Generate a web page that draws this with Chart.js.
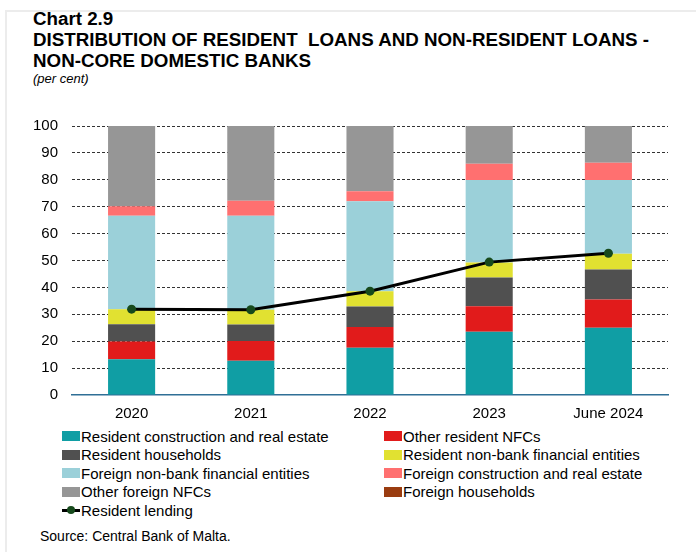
<!DOCTYPE html>
<html>
<head>
<meta charset="utf-8">
<script src="https://cdn.jsdelivr.net/npm/chart.js@4.4.1/dist/chart.umd.min.js"></script>
<style>
  html, body { margin: 0; padding: 0; background: #fff; }
  body { width: 696px; height: 552px; position: relative; overflow: hidden;
         font-family: "Liberation Sans", Arial, sans-serif; color: #000; }
  .frame { position: absolute; left: 5px; top: 10px; width: 720px; height: 600px;
           border: 2px solid #ececec; box-sizing: border-box; }
  .title { position: absolute; left: 33px; top: 8px; font-weight: bold; font-size: 18.75px; line-height: 21px; }
  .unit { position: absolute; left: 33px; top: 71px; font-style: italic; font-size: 13px; }
  .chart-box { position: absolute; left: 20px; top: 103px; width: 660px; height: 322px; }
  #legend { position: absolute; left: 62px; top: 427px; width: 620px; font-size: 15px; }
  .item { position: absolute; display: flex; align-items: center; height: 18px; white-space: nowrap; }
  .swatch { width: 18px; height: 10px; margin-right: 1px; }
  .source { position: absolute; left: 40px; top: 528px; font-size: 14px; }
</style>
</head>
<body>
<div class="frame"></div>
<div class="title">Chart 2.9<br>DISTRIBUTION OF RESIDENT&nbsp; LOANS AND NON-RESIDENT LOANS -<br>NON-CORE DOMESTIC BANKS</div>
<div class="unit">(per cent)</div>
<div class="chart-box"><canvas id="chart"></canvas></div>
<div id="legend"></div>
<div class="source">Source: Central Bank of Malta.</div>
<script>
// Shares of total loans, per cent
const periods = ["2020", "2021", "2022", "2023", "June 2024"];

const residentConstruction = [13.3, 12.7, 17.6, 23.5, 25.0];
const otherResidentNFCs = [6.6, 7.4, 7.7, 9.5, 10.5];
const residentHouseholds = [6.4, 6.1, 7.6, 10.7, 11.2];
const residentNonBank = [5.6, 5.5, 5.7, 5.6, 5.8];
const foreignNonBank = [34.7, 34.9, 33.4, 30.6, 27.4];
const foreignConstruction = [3.6, 5.6, 3.7, 6.1, 6.4];
const otherForeignNFCs = [29.8, 27.8, 24.3, 14.0, 13.7];
const foreignHouseholds = [0, 0, 0, 0, 0];
const residentLending = [31.9, 31.7, 38.6, 49.4, 52.7];

const yTicks = [0, 10, 20, 30, 40, 50, 60, 70, 80, 90, 100];

const bar = (label, data, color) => ({
    type: "bar",
    label,
    data,
    backgroundColor: color,
    borderWidth: 0,
    stack: "loans",
    order: 2,
    categoryPercentage: 1,
    barPercentage: 0.395,
});

const datasets = [
    bar("Resident construction and real estate", residentConstruction, "#109ea4"),
    bar("Other resident NFCs", otherResidentNFCs, "#e11b1b"),
    bar("Resident households", residentHouseholds, "#505050"),
    bar("Resident non-bank financial entities", residentNonBank, "#e1e131"),
    bar("Foreign non-bank financial entities", foreignNonBank, "#9bd0d9"),
    bar("Foreign construction and real estate", foreignConstruction, "#ff7070"),
    bar("Other foreign NFCs", otherForeignNFCs, "#969696"),
    bar("Foreign households", foreignHouseholds, "#9a3c10"),
    {
        type: "line",
        label: "Resident lending",
        data: residentLending,
        borderColor: "#000000",
        borderWidth: 3,
        pointRadius: 4.5,
        pointBackgroundColor: "#174a1c",
        pointBorderWidth: 0,
        tension: 0,
        order: 1,
    },
];

const tickFont = { family: "'Liberation Sans', Arial, sans-serif", size: 15 };

const chart = new Chart(document.getElementById("chart"), {
    data: { labels: periods, datasets },
    options: {
        responsive: true,
        maintainAspectRatio: false,
        animation: false,
        layout: { padding: { top: 2, right: 12, left: 0, bottom: 0 } },
        scales: {
            x: {
                grid: { display: false },
                border: { display: true, color: "#2f6f96", width: 1.5 },
                ticks: { color: "#000", font: tickFont, padding: 2 },
            },
            y: {
                stacked: true,
                min: 0,
                max: 100,
                afterBuildTicks: (axis) => {
                    axis.ticks = yTicks.map((v) => ({ value: v }));
                },
                afterFit: (axis) => {
                    axis.width = 52;
                },
                border: { display: false, dash: [3, 2] },
                grid: {
                    drawTicks: false,
                    color: (ctx) => (ctx.tick.value === 0 ? "rgba(0,0,0,0)" : "#333"),
                    lineWidth: 1,
                },
                ticks: { color: "#000", font: tickFont, padding: 14 },
            },
        },
        plugins: {
            legend: { display: false },
            tooltip: { enabled: false },
        },
    },
});

// Two-column legend built from the dataset styles
const legendEl = document.getElementById("legend");
const rowGap = 18.6;
chart.data.datasets.forEach((ds, i) => {
    const item = document.createElement("div");
    item.className = "item";
    item.style.left = (i % 2 === 0 ? 0 : 322) + "px";
    item.style.top = Math.floor(i / 2) * rowGap + "px";
    const sw = document.createElement("span");
    if (ds.type === "line") {
        sw.style.cssText = "width:18px;height:3px;margin-right:1px;position:relative;background:" + ds.borderColor;
        const dot = document.createElement("span");
        dot.style.cssText = "position:absolute;left:5px;top:-3px;width:8px;height:8px;border-radius:50%;background:" + ds.pointBackgroundColor;
        sw.appendChild(dot);
    } else {
        sw.className = "swatch";
        sw.style.background = ds.backgroundColor;
    }
    item.appendChild(sw);
    item.appendChild(document.createTextNode(ds.label));
    legendEl.appendChild(item);
});
</script>
</body>
</html>
